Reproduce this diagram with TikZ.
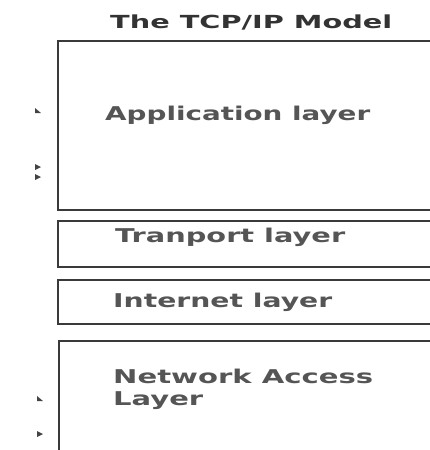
\documentclass[tikz,border=0pt]{standalone}
\usepackage{fontspec}
\usepackage{graphicx}
\setmainfont{DejaVu Sans}
\definecolor{boxline}{HTML}{3A3A3A}
\definecolor{txtgray}{HTML}{555555}
\definecolor{titlegray}{HTML}{333333}
\newcommand{\widetxt}[2]{\resizebox{#1pt}{\height}{#2}}
\begin{document}
\begin{tikzpicture}[x=1pt,y=-1pt,
  layerbox/.style={draw=boxline,line width=1.8pt},
  lbl/.style={anchor=base west,inner sep=0pt,text=txtgray,font=\fontsize{19}{21}\selectfont\bfseries},
  ttl/.style={anchor=base west,inner sep=0pt,text=titlegray,font=\fontsize{18}{20}\selectfont\bfseries},
  tick/.style={fill=txtgray!80!black}]
\useasboundingbox (0,0) rectangle (430,450);
\clip (0,0) rectangle (430,450);
% title
\node[ttl] (title) at (110,28) {\widetxt{282}{The TCP/IP Model}};
% boxes
\draw[layerbox] (58,41) rectangle (445,210);
\draw[layerbox] (58,221) rectangle (445,267);
\draw[layerbox] (58,280) rectangle (445,324);
\draw[layerbox] (59,341) rectangle (445,470);
% labels
\node[lbl] (app) at (105,120) {\widetxt{265}{Application layer}};
\node[lbl] (trans) at (115,242) {\widetxt{230}{Tranport layer}};
\node[lbl] (inet) at (113,307) {\widetxt{219}{Internet layer}};
\node[lbl] (net1) at (113,383) {\widetxt{260}{Network Access}};
\node[lbl] (net2) at (113,405) {\widetxt{90}{Layer}};
% small marks at left
\fill[tick] (35,108) -- (35,113) -- (41,113) -- cycle;
\fill[tick] (35,164) -- (35,170) -- (41,167) -- cycle;
\fill[tick] (35,174) -- (35,180) -- (41,177) -- cycle;
\fill[tick] (37,396) -- (37,401) -- (43,401) -- cycle;
\fill[tick] (37,431) -- (37,437) -- (43,434) -- cycle;
\end{tikzpicture}
\end{document}
